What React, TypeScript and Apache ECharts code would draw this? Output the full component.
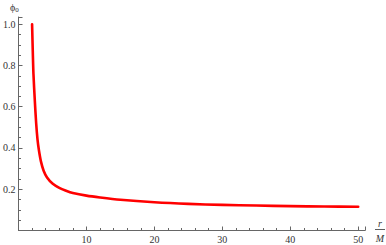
import React, { useEffect, useRef } from "react";
import * as echarts from "echarts";

const rValues = [2.0, 2.1, 2.2, 2.4, 2.6, 2.8, 3.0, 3.3, 3.7, 4.2, 5, 6, 7, 8, 10, 12, 15, 20, 25, 30, 35, 40, 45, 50];
const phiValues = [1.0, 0.87, 0.76, 0.63, 0.52, 0.44, 0.39, 0.335, 0.29, 0.257, 0.228, 0.207, 0.193, 0.182, 0.169, 0.16, 0.149, 0.137, 0.129, 0.124, 0.121, 0.118, 0.116, 0.115];
const xLabelFmt = (v: number) => (v === 0 ? "" : String(v));
const yLabelFmt = (v: number) => (v === 0 ? "" : v.toFixed(1));

const FONT = "Liberation Serif";
const AXIS = "#666666";
const TEXT = "#333333";

export default function App() {
  const ref = useRef<HTMLDivElement>(null);
  useEffect(() => {
    if (!ref.current) return;
    const chart = echarts.init(ref.current, undefined, { renderer: "svg" });
    chart.setOption({
      animation: false,
      backgroundColor: "#ffffff",
      grid: { left: 16, top: 17, width: 349, height: 213.5, containLabel: false },
      xAxis: {
        type: "value",
        min: 0,
        max: 51,
        interval: 10,
        axisLine: { show: true, onZero: true, lineStyle: { color: AXIS, width: 1 } },
        axisTick: { show: true, inside: true, length: 4, lineStyle: { color: AXIS } },
        minorTick: { show: true, splitNumber: 5, length: 2.5, lineStyle: { color: AXIS } },
        splitLine: { show: false },
        axisLabel: { formatter: xLabelFmt, fontFamily: FONT, fontSize: 10, color: TEXT, margin: 4, showMaxLabel: false },
      },
      yAxis: {
        type: "value",
        min: 0,
        max: 1.035,
        interval: 0.2,
        axisLine: { show: true, onZero: true, lineStyle: { color: AXIS, width: 1 } },
        axisTick: { show: true, inside: true, length: 4, lineStyle: { color: AXIS } },
        minorTick: { show: true, splitNumber: 4, length: 2.5, lineStyle: { color: AXIS } },
        splitLine: { show: false },
        axisLabel: { formatter: yLabelFmt, fontFamily: FONT, fontSize: 10, color: TEXT, margin: 3, showMaxLabel: false },
      },
      graphic: [
        {
          type: "text",
          left: 10,
          top: 2,
          style: {
            text: "{a|ϕ}{b|0}",
            rich: {
              a: { fontFamily: FONT, fontSize: 10, fill: TEXT },
              b: { fontFamily: FONT, fontSize: 7, fill: TEXT, padding: [5, 0, 0, 0] },
            },
          },
        },
        {
          type: "text",
          x: 380,
          y: 223,
          style: { text: "r", fontFamily: FONT, fontStyle: "italic", fontSize: 10, fill: TEXT, align: "center", verticalAlign: "middle" },
        },
        {
          type: "line",
          shape: { x1: 375, y1: 229.5, x2: 385, y2: 229.5 },
          style: { stroke: TEXT, lineWidth: 0.8 },
        },
        {
          type: "text",
          x: 380,
          y: 238,
          style: { text: "M", fontFamily: FONT, fontStyle: "italic", fontSize: 10, fill: TEXT, align: "center", verticalAlign: "middle" },
        },
      ],
      series: [
        {
          type: "line",
          data: rValues.map((r, i) => [r, phiValues[i]]),
          showSymbol: false,
          smooth: 0.3,
          lineStyle: { color: "#ff0000", width: 2.6, join: "round", cap: "round" },
          clip: false,
        },
      ],
    });
    return () => chart.dispose();
  }, []);
  return <div ref={ref} style={{ position: "absolute", left: 0, top: 0, width: 386, height: 245 }} />;
}
